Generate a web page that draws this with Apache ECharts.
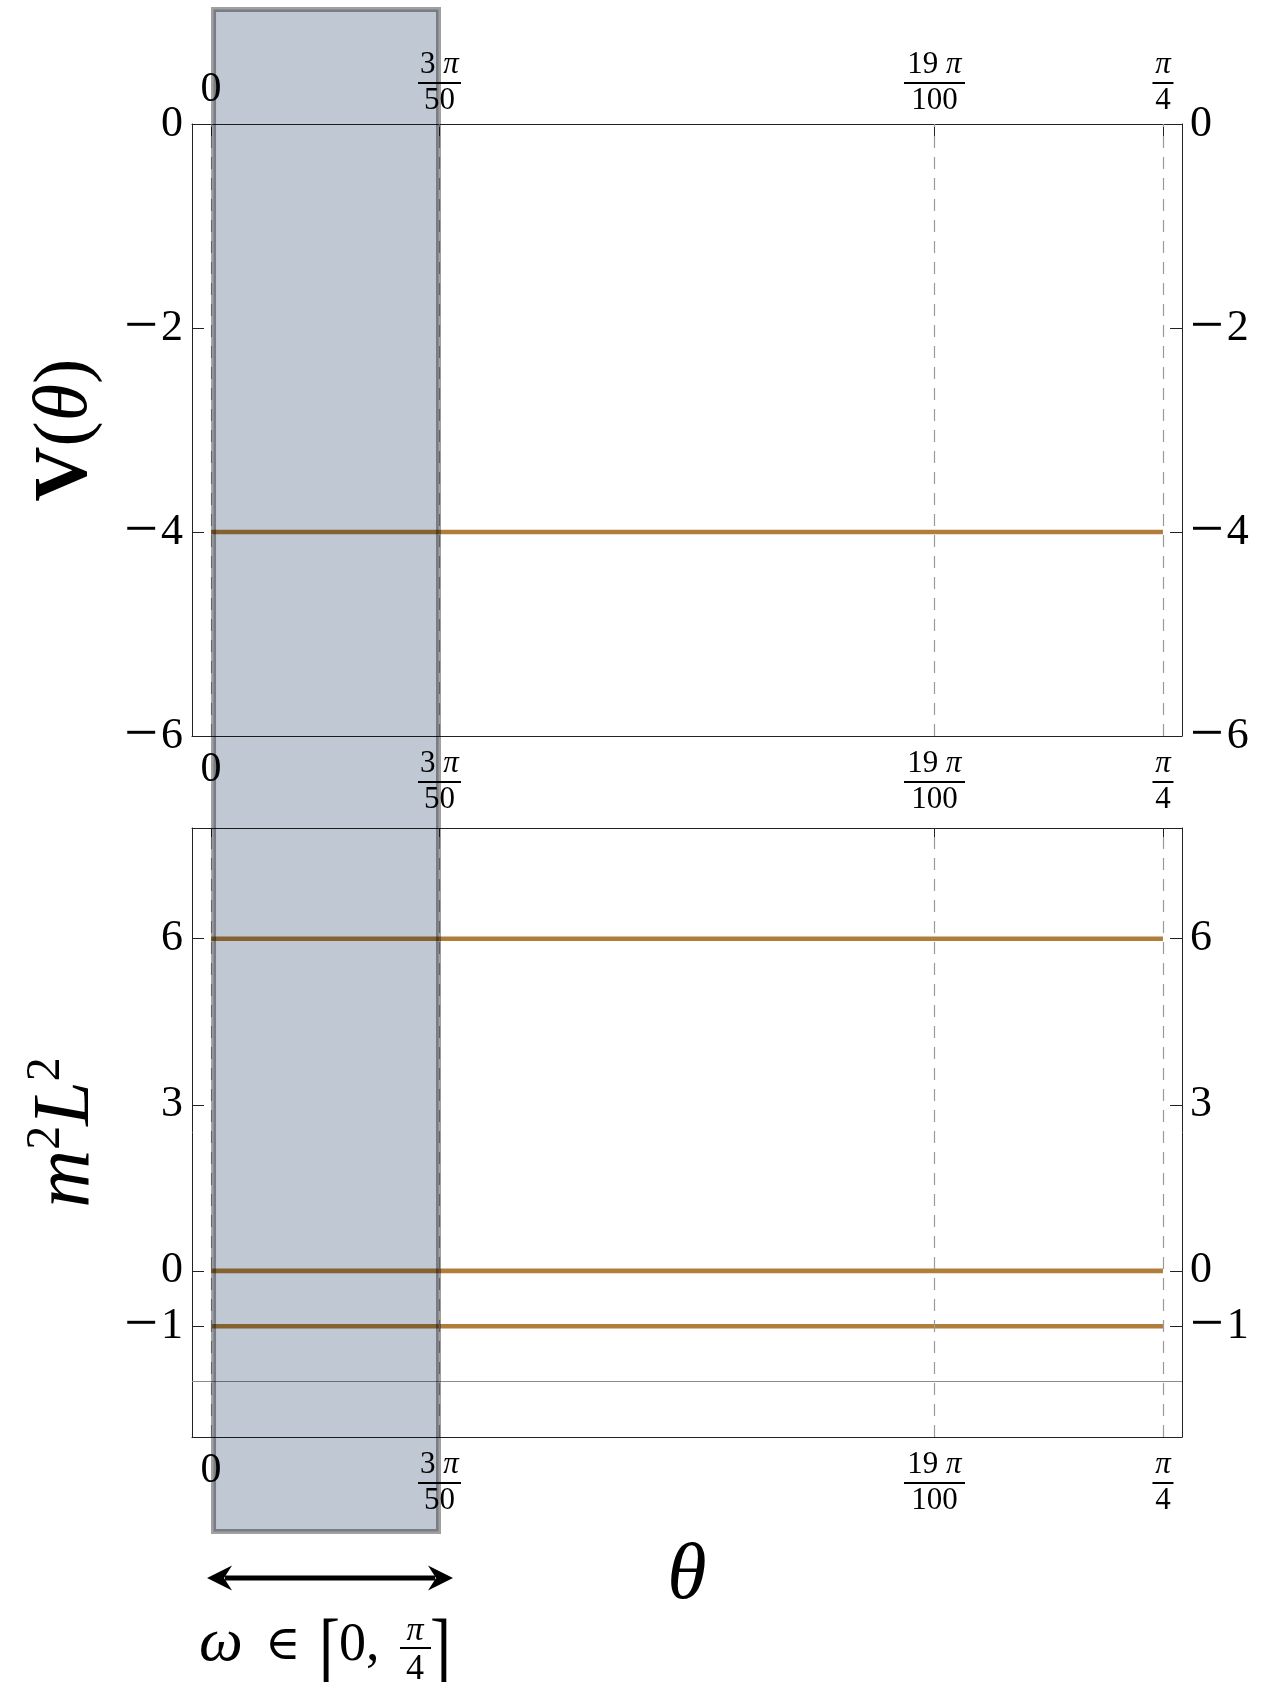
<!DOCTYPE html>
<html>
<head>
<meta charset="utf-8">
<script src="https://cdn.jsdelivr.net/npm/echarts@6/dist/echarts.min.js"></script>
<style>
  html, body { margin: 0; padding: 0; background: #fff; }
  #chart { width: 1272px; height: 1682px; }
</style>
</head>
<body>
<div id="chart"></div>
<script>
// θ is measured in units of π/100 along both horizontal axes.
const thetaTicks = [0, 6, 19, 25];
const thetaTickNum = ['0', '3', '19', ''];
const thetaTickDen = ['', '50', '100', '4'];
const thetaMin = -0.5;
const thetaMax = 25.5;

// Upper panel: potential V(θ)
const potentialTheta = [0, 25];
const potentialValues = [-4, -4];
const potentialTicks = [0, -2, -4, -6];

// Lower panel: mass spectrum m²L²
const massTheta = [0, 25];
const massLevelA = [6, 6];
const massLevelB = [0, 0];
const massLevelC = [-1, -1];
const massTicks = [6, 3, 0, -1];
const bfBound = -2;

// highlighted window of θ
const windowRange = [0, 6];

const SERIF = 'Liberation Serif, Times New Roman, serif';
const CURVE = '#b07d3a';
const FRAME = '#222';

function zip(xs, ys) { return xs.map((x, i) => [x, ys[i]]); }

const barWidths = { bar1: 43, bar2: 61, bar3: 21 };

function thetaLabel(v) {
  const i = thetaTicks.indexOf(v);
  if (i < 0) return '';
  if (!thetaTickDen[i]) return '{z|' + thetaTickNum[i] + '}';
  const num = thetaTickNum[i] ? '{n|' + thetaTickNum[i] + ' }{p|π}' : '{p|π}';
  return num + '\n{bar' + i + '|\u00a0}\n{n|' + thetaTickDen[i] + '}';
}

function fracRich(zPadBottom) {
  const rich = {
    z: { fontFamily: SERIF, fontSize: 42, lineHeight: 42, color: '#000', padding: [0, 0, zPadBottom, 0] },
    n: { fontFamily: SERIF, fontSize: 31, lineHeight: 30, color: '#000' },
    p: { fontFamily: SERIF, fontSize: 31, lineHeight: 30, fontStyle: 'italic', color: '#000' }
  };
  Object.keys(barWidths).forEach(k => {
    rich[k] = { width: barWidths[k], height: 2, lineHeight: 6, fontSize: 2, backgroundColor: '#000' };
  });
  return rich;
}

function numLabel(v) {
  return v < 0 ? '{m|\u2212}{d|' + Math.abs(v) + '}' : '{d|' + v + '}';
}

const numRich = {
  m: { fontFamily: SERIF, fontSize: 60, lineHeight: 44, color: '#000', padding: [0, 3, 0, 0] },
  d: { fontFamily: SERIF, fontSize: 44, lineHeight: 44, color: '#000' }
};

function thetaAxis(gridIndex, position, showLabel, margin, zPad) {
  return {
    type: 'value', gridIndex, position,
    min: thetaMin, max: thetaMax,
    axisLine: { show: true, onZero: false, lineStyle: { color: FRAME, width: 1 } },
    axisTick: { show: true, inside: true, length: 12, customValues: thetaTicks, lineStyle: { color: FRAME, width: 1 } },
    axisLabel: {
      show: showLabel, customValues: thetaTicks, margin,
      formatter: thetaLabel, rich: fracRich(zPad || 0), color: '#000'
    },
    splitLine: { show: false }
  };
}

function valueAxis(gridIndex, position, min, max, ticks, margin) {
  return {
    type: 'value', gridIndex, position, min, max,
    axisLine: { show: true, onZero: false, lineStyle: { color: FRAME, width: 1 } },
    axisTick: { show: true, inside: true, length: 12, customValues: ticks, lineStyle: { color: FRAME, width: 1 } },
    axisLabel: {
      show: true, customValues: ticks, margin,
      formatter: numLabel, rich: numRich, fontFamily: SERIF, fontSize: 44, color: '#000'
    },
    splitLine: { show: false }
  };
}

const guideStyle = { color: '#9a9a9a', width: 1.2, type: [12, 9] };

function guideSeries(xi, yi, extra) {
  const data = thetaTicks.map(t => ({ xAxis: t, lineStyle: guideStyle }));
  return {
    type: 'line', xAxisIndex: xi, yAxisIndex: yi, data: [], z: 1, silent: true,
    markLine: {
      silent: true, symbol: ['none', 'none'], label: { show: false },
      emphasis: { disabled: true },
      data: data.concat(extra || [])
    }
  };
}

function levelSeries(xi, yi, xs, ys) {
  return {
    type: 'line', xAxisIndex: xi, yAxisIndex: yi, data: zip(xs, ys), z: 3,
    showSymbol: false, symbol: 'none', silent: true,
    lineStyle: { color: CURVE, width: 4.6, cap: 'butt' }
  };
}

const chart = echarts.init(document.getElementById('chart'), null, { renderer: 'canvas' });

const yName0 = {
  name: '{b|V}{r|(}{i|θ}{r|)}',
  nameLocation: 'middle', nameRotate: 90, nameGap: 88,
  nameTextStyle: {
    fontFamily: SERIF, fontSize: 76, color: '#000',
    rich: {
      b: { fontFamily: SERIF, fontSize: 76, fontWeight: 'bold', color: '#000' },
      r: { fontFamily: SERIF, fontSize: 76, color: '#000' },
      i: { fontFamily: SERIF, fontSize: 76, fontStyle: 'italic', color: '#000' }
    }
  }
};
const yName1 = {
  name: '{i|m}{s|2}{i|L}{s|2}',
  nameLocation: 'middle', nameRotate: 90, nameGap: 80,
  nameTextStyle: {
    fontFamily: SERIF, fontSize: 80, color: '#000',
    rich: {
      i: { fontFamily: SERIF, fontSize: 80, lineHeight: 90, fontStyle: 'italic', color: '#000' },
      s: { fontFamily: SERIF, fontSize: 48, verticalAlign: 'top', color: '#000' }
    }
  }
};

chart.setOption({
  animation: false,
  backgroundColor: '#fff',
  grid: [
    { left: 192, right: 90, top: 124, height: 612, outerBoundsMode: 'none', containLabel: false },
    { left: 192, right: 90, top: 828, height: 609, outerBoundsMode: 'none', containLabel: false }
  ],
  xAxis: [
    thetaAxis(0, 'bottom', true, 13),
    thetaAxis(0, 'top', true, 8, 10),
    Object.assign(thetaAxis(1, 'bottom', true, 13), {
      name: 'θ', nameLocation: 'middle', nameGap: 100,
      nameTextStyle: { fontFamily: SERIF, fontSize: 80, fontStyle: 'italic', color: '#000' }
    }),
    thetaAxis(1, 'top', false, 8)
  ],
  yAxis: [
    Object.assign(valueAxis(0, 'left', -6, 0, potentialTicks, 9), yName0),
    valueAxis(0, 'right', -6, 0, potentialTicks, 8),
    Object.assign(valueAxis(1, 'left', -3, 8, massTicks, 9), yName1),
    valueAxis(1, 'right', -3, 8, massTicks, 8)
  ],
  series: [
    guideSeries(0, 0),
    levelSeries(0, 0, potentialTheta, potentialValues),
    guideSeries(2, 2, [{ yAxis: bfBound, lineStyle: { color: '#8c8c8c', width: 1, type: 'solid' } }]),
    levelSeries(2, 2, massTheta, massLevelA),
    levelSeries(2, 2, massTheta, massLevelB),
    levelSeries(2, 2, massTheta, massLevelC)
  ]
});

// Shaded window spanning both panels, plus the ω annotation beneath it.
const wx0 = chart.convertToPixel({ xAxisIndex: 0 }, windowRange[0]);
const wx1 = chart.convertToPixel({ xAxisIndex: 0 }, windowRange[1]) + 1.5;
const border = 5;
const boxTop = 7, boxBottom = 1534;
const arrowY = 1578;
const ax0 = wx0 - 4, ax1 = wx1 + 12;
const baseY = 1662;
const mid = (fs) => baseY - 0.3 * fs;
const fracX = 415;

chart.setOption({
  graphic: [
    {
      type: 'rect', z: 100, silent: true,
      shape: { x: wx0 + border / 2, y: boxTop + border / 2, width: wx1 - wx0 - border, height: boxBottom - boxTop - border },
      style: { fill: '#c0c8d4', stroke: '#a0a0a0', lineWidth: border, blend: 'multiply' }
    },
    {
      type: 'line', z: 100, silent: true,
      shape: { x1: ax0 + 18, y1: arrowY, x2: ax1 - 18, y2: arrowY },
      style: { stroke: '#000', lineWidth: 5 }
    },
    {
      type: 'polygon', z: 100, silent: true,
      shape: { points: [[ax0, arrowY], [ax0 + 25, arrowY - 12.5], [ax0 + 17, arrowY], [ax0 + 25, arrowY + 12.5]] },
      style: { fill: '#000' }
    },
    {
      type: 'polygon', z: 100, silent: true,
      shape: { points: [[ax1, arrowY], [ax1 - 25, arrowY - 12.5], [ax1 - 17, arrowY], [ax1 - 25, arrowY + 12.5]] },
      style: { fill: '#000' }
    },
    { type: 'text', z: 100, silent: true, x: 199, y: mid(62),
      style: { text: 'ω', fontFamily: SERIF, fontSize: 62, fontStyle: 'italic', fill: '#000', verticalAlign: 'middle' } },
    { type: 'text', z: 100, silent: true, x: 265, y: mid(52),
      style: { text: '∈', fontFamily: 'DejaVu Serif, ' + SERIF, fontSize: 48, fill: '#000', verticalAlign: 'middle' } },
    { type: 'text', z: 100, silent: true, x: 319, y: baseY - 6, scaleX: 0.75,
      style: { text: '[', fontFamily: SERIF, fontSize: 84, fill: '#000', verticalAlign: 'middle' } },
    { type: 'text', z: 100, silent: true, x: 339, y: mid(54),
      style: { text: '0,', fontFamily: SERIF, fontSize: 54, fill: '#000', verticalAlign: 'middle' } },
    { type: 'text', z: 100, silent: true, x: fracX, y: 1641 - 0.3 * 34,
      style: { text: 'π', fontFamily: SERIF, fontSize: 34, fontStyle: 'italic', fill: '#000', align: 'center', verticalAlign: 'middle' } },
    { type: 'rect', z: 100, silent: true, shape: { x: fracX - 15, y: 1647, width: 31, height: 2 }, style: { fill: '#000' } },
    { type: 'text', z: 100, silent: true, x: fracX, y: 1680 - 0.3 * 36,
      style: { text: '4', fontFamily: SERIF, fontSize: 36, fill: '#000', align: 'center', verticalAlign: 'middle' } },
    { type: 'text', z: 100, silent: true, x: 430, y: baseY - 6, scaleX: 0.75,
      style: { text: ']', fontFamily: SERIF, fontSize: 84, fill: '#000', verticalAlign: 'middle' } }
  ]
});
</script>
</body>
</html>
